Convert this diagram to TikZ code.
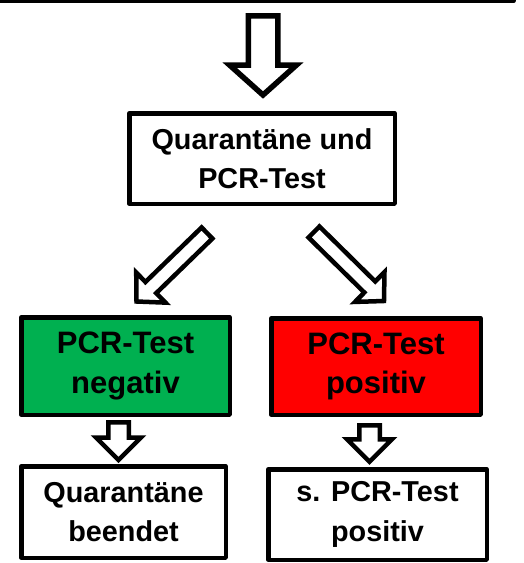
\documentclass[tikz,border=0pt]{standalone}
\usepackage{fontspec}
\setmainfont{Liberation Sans}
\usepackage{tikz}
\usetikzlibrary{calc}
\usetikzlibrary{positioning}
\definecolor{testneg}{HTML}{00B050}
\definecolor{testpos}{HTML}{FF0000}
% block arrow: [options]{tail}{tip}{half shaft}{half head}{head length}
\newcommand{\fatarrow}[6][]{%
	\coordinate (hb) at ($(#3)!#6!(#2)$);
	\draw[fat arrow,#1] ($(#2)!#4!90:(#3)$) -- ($(hb)!#4!90:(#3)$) -- ($(hb)!#5!90:(#3)$) -- (#3)
		-- ($(hb)!#5!-90:(#3)$) -- ($(hb)!#4!-90:(#3)$) -- ($(#2)!#4!-90:(#3)$) -- cycle;}

\begin{document}
\begin{tikzpicture}[x=1pt,y=1pt,on grid,
		box/.style={rectangle,draw=black,line width=4.5pt,line join=round,align=center,inner sep=0pt,
			font=\fontsize{28.8}{39.5}\selectfont\bfseries},
		result/.style={box,font=\fontsize{31}{39.5}\selectfont\bfseries},
		fat arrow/.style={draw=black,fill=white,line width=4.5pt,miter limit=10}]
		\useasboundingbox (0,0) rectangle (523,-563);
		\clip (0,0) rectangle (523,-563);
		
		\node[box,minimum width=560pt,minimum height=60pt]  (top)   at (233.75,29.5) {};
		\node[box,minimum width=265.5pt,minimum height=90.5pt] (qbox) at (262,-158.5) {Quarantäne und\\PCR-Test};
		\node[result,fill=testneg,minimum width=208.5pt,minimum height=97.5pt] (neg) [below left=207.5pt and 136.5pt of qbox] {PCR-Test\\negativ};
		\node[result,fill=testpos,minimum width=209.5pt,minimum height=96.5pt] (pos) [below right=208pt and 114pt of qbox] {PCR-Test\\positiv};
		\node[box,minimum width=204.5pt,minimum height=91.5pt] (done) [below=146pt of neg,xshift=-2pt] {Quarantäne\\beendet};
		\node[box,minimum width=218.5pt,minimum height=90.5pt] (spos) [below=148pt of pos,xshift=1.5pt] {s. PCR-Test\\positiv};
		
		\coordinate (a0s) at ($(top.south)+(29.25,-13)$);
		\coordinate (a0e) at ($(qbox.north)+(1,16)$);
		\coordinate (a1s) at ($(qbox.south)+(-55,-27)$);
		\coordinate (a1e) at ($(neg.north)+(11,13.5)$);
		\coordinate (a2s) at ($(qbox.south)+(52,-26)$);
		\coordinate (a2e) at ($(pos.north)+(8,15)$);
		\coordinate (a3s) at ($(neg.south)+(-7,-5.25)$);
		\coordinate (a3e) at ($(done.north)+(-5,4)$);
		\coordinate (a4s) at ($(pos.south)+(-6.5,-8.25)$);
		\coordinate (a4e) at ($(spos.north)+(-8,5.2)$);
		
		\fatarrow[line width=5.5pt]{a0s}{a0e}{14.75pt}{33.5pt}{30pt}
		\fatarrow{a1s}{a1e}{7.75pt}{21pt}{20pt}
		\fatarrow{a2s}{a2e}{7.75pt}{21pt}{20pt}
		\fatarrow{a3s}{a3e}{10.25pt}{22.5pt}{22.5pt}
		\fatarrow{a4s}{a4e}{10.25pt}{22.5pt}{22.5pt}
\end{tikzpicture}
\end{document}
